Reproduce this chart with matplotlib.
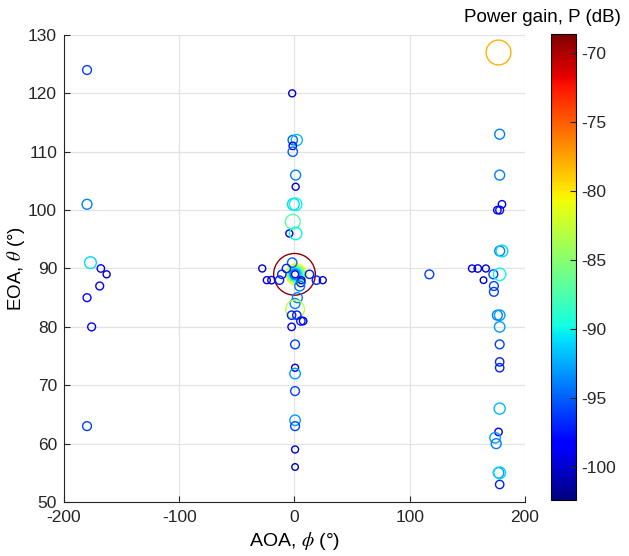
import numpy as np
import matplotlib
matplotlib.use("Agg")
import matplotlib.pyplot as plt

plt.rcParams['font.family'] = ['Liberation Sans', 'DejaVu Sans']
plt.rcParams['mathtext.fontset'] = 'stix'
plt.rcParams['axes.unicode_minus'] = False

# multipath components: azimuth (deg), elevation (deg), power gain (dB)
aoa = [-180, -180, -177, -168, -163, -169, -180, -176, -180,
       -2, -1.5, 2, -1.5, -1.5, 1, 1, -1, 1, -1.5, -4.5, 1,
       0, 1.5, 1.5, 1.5, 1, 1, 0.5, 0.5,
       -28, -2, -7, -11, -24, -20, -13, 6, 5.5, 4.5, 13, 19, 24.5,
       2.5, 0.5, 0.5, -2.5, 2, 5.5, 7.5, -2.5, 0.5, 0.5, 0.5, 0.5, 0.5, 0.5, 0.5, 0.5,
       177, 178, 178, 180, 176, 178, 178, 180, 117, 154, 159, 166, 172.5, 178,
       164, 173, 173, 176, 178, 178, 178, 178, 178, 178, 177, 174, 175, 177, 178, 178]
eoa = [124, 101, 91, 90, 89, 87, 85, 80, 63,
       120, 112, 112, 111, 110, 106, 104, 101, 101, 98, 96, 96,
       89, 89, 89, 89, 89, 89, 89, 89,
       90, 91, 90, 89, 88, 88, 88, 88, 87.6, 87, 89, 88, 88,
       85, 84, 83, 82, 82, 81, 81, 80, 77, 73, 72, 69, 64, 63, 59, 56,
       127, 113, 106, 101, 100, 100, 93, 93, 89, 90, 90, 90, 89, 89,
       88, 87, 86, 82, 82, 80, 77, 74, 73, 66, 62, 61, 60, 55, 55, 53]
power = [-96, -94, -91, -99, -100, -98, -98, -98, -96,
         -100, -95, -92, -99, -95, -94, -100, -91, -90, -87, -100, -90,
         -69, -81, -84, -86, -88, -91, -94, -100,
         -100, -95, -97, -97, -100, -99, -97, -100, -97, -94, -97, -97, -100,
         -94, -94, -83, -97, -97, -97, -99, -99, -96, -100, -93, -96, -93, -96, -100, -101,
         -78, -94, -94, -99, -99, -98, -94, -91, -96, -100, -99, -100, -96, -90,
         -101, -96, -96, -94, -93, -93, -96, -97, -97, -92, -99, -93, -94, -93, -91, -97]

x_ticks = [-200, -100, 0, 100, 200]
y_ticks = [50, 60, 70, 80, 90, 100, 110, 120, 130]
cbar_ticks = [-100, -95, -90, -85, -80, -75, -70]

p = np.array(power, dtype=float)
# marker radius grows with power (px), converted to points^2
radius_px = 3.5 * 10 ** (0.025 * (p + 100))
sizes = (2 * radius_px * 0.72) ** 2

fig = plt.figure(figsize=(6.29, 5.56), dpi=100)
ax = fig.add_axes([0.1017, 0.0971, 0.733, 0.840])
cax = fig.add_axes([0.876, 0.1007, 0.0397, 0.838])

sc = ax.scatter(aoa, eoa, s=sizes, c=p, cmap='jet', vmin=-102.4, vmax=-68.6,
                linewidths=1.0, zorder=3)
sc.set_facecolor('none')
sc.set_edgecolors(plt.cm.jet((p + 102.4) / (102.4 - 68.6)))

ax.set_xlim(-200, 200)
ax.set_ylim(50, 130)
ax.set_xticks(x_ticks)
ax.set_yticks(y_ticks)
ax.grid(True, color='#e3e3e3', linewidth=0.9, zorder=0)
ax.set_axisbelow(True)
for side in ['top', 'right']:
    ax.spines[side].set_visible(False)
for side in ['left', 'bottom']:
    ax.spines[side].set_color('#262626')
    ax.spines[side].set_linewidth(0.8)
ax.tick_params(direction='in', length=4, labelsize=12.5, colors='#262626')
ax.tick_params(axis='x', pad=6)
ax.tick_params(axis='y', pad=5)
ax.set_xlabel(r'AOA, $\phi$ (°)', fontsize=14, labelpad=3)
ax.set_ylabel(r'EOA, $\theta$ (°)', fontsize=13.5, labelpad=1)

cb = fig.colorbar(sc, cax=cax, ticks=cbar_ticks)
cb.outline.set_linewidth(0.8)
cax.tick_params(direction='in', length=4, labelsize=12.5, colors='#262626')
fig.text(0.862, 0.968, 'Power gain, P (dB)', ha='center', va='center', fontsize=13.5)

fig.savefig('out.png', dpi=100)
